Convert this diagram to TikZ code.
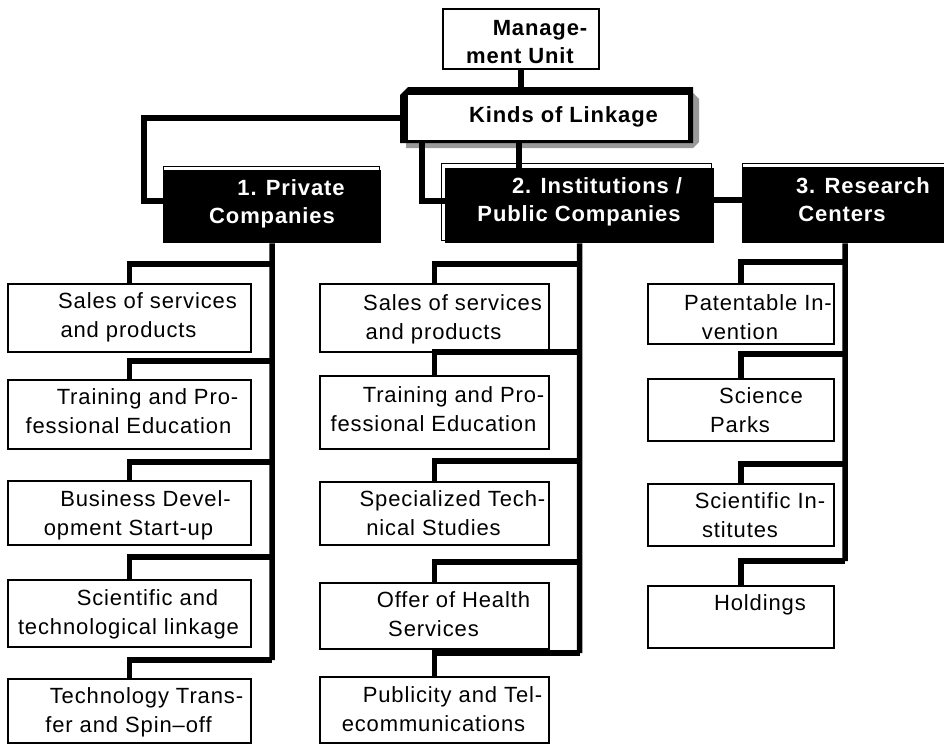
\documentclass[tikz,border=0pt]{standalone}
\usepackage{fontspec}
\setmainfont{Liberation Sans}[LetterSpace=4]
\begin{document}
\begin{tikzpicture}[x=1pt,y=-1pt,
  conn/.style={line width=5.5pt, line join=miter},
  leaf/.style={draw=black, line width=1.6pt, fill=white, rectangle, inner sep=0pt, anchor=north west},
  hdbox/.style={fill=black, rectangle, inner sep=0pt, anchor=north west},
  hdshade/.style={draw=black, line width=1pt, fill=white},
  lbl/.style={anchor=base, align=center, inner sep=0pt, font=\fontsize{22}{29}\selectfont},
  hdr/.style={anchor=base, align=center, inner sep=0pt, text=white, font=\fontsize{22}{28}\selectfont\bfseries},
  bld/.style={anchor=base, align=center, inner sep=0pt, text=black, font=\fontsize{22}{28}\selectfont\bfseries}
]
\useasboundingbox (0,0) rectangle (944,744);
\fill[white] (0,0) rectangle (944,744);

% ---------- Management unit ----------
\node[leaf, minimum width=156pt, minimum height=60pt] (mgmt) at (442,8) {};
\node[bld] (mgmtt) at (520,63) {\hspace*{40pt}Manage-\\ment Unit};

% ---------- Kinds of Linkage ----------
\node[minimum width=293pt, minimum height=56pt, inner sep=0pt] (kinds) at (546.5,115) {};
\fill[black!40] (406,93) -- (693,93) -- (699,99) -- (699,142) -- (693,148) -- (406,148) -- cycle;
\fill[black] (400,95) -- (408,87) -- (693,87) -- (693,143) -- (400,143) -- cycle;
\fill[white] (408,95) rectangle (688,140);
\node[bld] (kindst) at (546.5,122) {\hspace*{34pt}Kinds of Linkage};

% ---------- Level-1 boxes ----------
\draw[hdshade] (163,166) rectangle (379,240);
\node[hdbox, minimum width=218pt, minimum height=73pt] (priv) at (163,170) {};
\node[hdr] (privt) at (272,223) {\hspace*{38pt}1. Private\\Companies};

\draw[hdshade] (441,163) rectangle (711,240);
\node[hdbox, minimum width=269pt, minimum height=75pt] (inst) at (445,168) {};
\node[hdr] (instt) at (579,221) {\hspace*{36pt}2. Institutions /\\Public Companies};

\draw[hdshade] (742,163) rectangle (950,240);
\node[hdbox, minimum width=206pt, minimum height=76pt] (res) at (742,167) {};
\node[hdr] (rest) at (842,221) {\hspace*{42pt}3. Research\\Centers};

% ---------- Column 1 ----------
\node[leaf, minimum width=243pt, minimum height=68pt] (c1b1) at (7,283) {};
\node[leaf, minimum width=243pt, minimum height=69pt] (c1b2) at (7,379) {};
\node[leaf, minimum width=243pt, minimum height=64pt] (c1b3) at (7,480) {};
\node[leaf, minimum width=243pt, minimum height=67pt] (c1b4) at (7,579) {};
\node[leaf, minimum width=243pt, minimum height=64pt] (c1b5) at (7,678) {};
\node[lbl] (c1t1) at (128.5,337) {\hspace*{38pt}Sales of services\\and products};
\node[lbl] (c1t2) at (128.5,433) {\hspace*{38pt}Training and Pro-\\fessional Education};
\node[lbl] (c1t3) at (128.5,535) {\hspace*{34pt}Business Devel-\\opment Start-up};
\node[lbl] (c1t4) at (128.5,634) {\hspace*{38pt}Scientific and\\technological linkage};
\node[lbl] (c1t5) at (128.5,732) {\hspace*{36pt}Technology Trans-\\fer and Spin--off};

% ---------- Column 2 ----------
\node[leaf, minimum width=229pt, minimum height=68pt] (c2b1) at (319,283) {};
\node[leaf, minimum width=229pt, minimum height=73pt] (c2b2) at (319,375) {};
\node[leaf, minimum width=229pt, minimum height=63pt] (c2b3) at (319,481) {};
\node[leaf, minimum width=229pt, minimum height=66pt] (c2b4) at (319,582) {};
\node[leaf, minimum width=229pt, minimum height=66pt] (c2b5) at (319,676) {};
\node[lbl] (c2t1) at (433.5,339) {\hspace*{38pt}Sales of services\\and products};
\node[lbl] (c2t2) at (433.5,431) {\hspace*{40pt}Training and Pro-\\fessional Education};
\node[lbl] (c2t3) at (433.5,535) {\hspace*{38pt}Specialized Tech-\\nical Studies};
\node[lbl] (c2t4) at (433.5,636) {\hspace*{40pt}Offer of Health\\Services};
\node[lbl] (c2t5) at (433.5,731) {\hspace*{38pt}Publicity and Tel-\\ecommunications};

% ---------- Column 3 ----------
\node[leaf, minimum width=186pt, minimum height=60pt] (c3b1) at (647,283) {};
\node[leaf, minimum width=186pt, minimum height=62pt] (c3b2) at (647,378) {};
\node[leaf, minimum width=186pt, minimum height=62pt] (c3b3) at (647,483) {};
\node[leaf, minimum width=186pt, minimum height=62pt] (c3b4) at (647,585) {};
\node[lbl] (c3t1) at (740,339) {\hspace*{36pt}Patentable In-\\vention};
\node[lbl] (c3t2) at (740,432) {\hspace*{42pt}Science\\Parks};
\node[lbl] (c3t3) at (740,537) {\hspace*{40pt}Scientific In-\\stitutes};
\node[lbl] (c3t4) at (740,610) {\hspace*{40pt}Holdings};

% ---------- Connectors: top ----------
\coordinate (kl) at (400,118);
\coordinate (pj) at (144,201);
\coordinate (kb1) at (519,143);
\coordinate (kb2) at (422,143);
\coordinate (ij) at (422,201);
\coordinate (ir) at (714,200);
\draw[conn] (mgmt.south) -- (mgmt.south |- kinds.north);
\draw[conn] (kl) -| (pj) -- (pj -| priv.west);
\draw[conn] (kb1) -- (kb1 |- inst.north);
\draw[conn] (kb2) -- (ij) -- (ij -| inst.west);
\draw[conn] (ir) -- (ir -| res.west);

% ---------- Connectors: column 1 ----------
\coordinate (j11) at (272,264);
\coordinate (j12) at (272,361);
\coordinate (j13) at (272,462);
\coordinate (j14) at (272,557);
\coordinate (j15) at (272,660);
\draw[conn] (priv.south) -- (j15);
\draw[conn] (c1b1.north) |- (j11);
\draw[conn] (c1b2.north) |- (j12);
\draw[conn] (c1b3.north) |- (j13);
\draw[conn] (c1b4.north) |- (j14);
\draw[conn] (c1b5.north) |- (j15);

% ---------- Connectors: column 2 ----------
\coordinate (j21) at (579.5,264);
\coordinate (j22) at (579.5,352);
\coordinate (j23) at (579.5,461);
\coordinate (j24) at (579.5,562);
\coordinate (j25) at (579.5,653);
\draw[conn] (inst.south) -- (j25);
\draw[conn] (c2b1.north) |- (j21);
\draw[conn] (c2b2.north) |- (j22);
\draw[conn] (c2b3.north) |- (j23);
\draw[conn] (c2b4.north) |- (j24);
\draw[conn] (c2b5.north) |- (j25);

% ---------- Connectors: column 3 ----------
\coordinate (j31) at (845,262);
\coordinate (j32) at (845,354);
\coordinate (j33) at (845,464);
\coordinate (j34) at (845,561);
\draw[conn] (res.south) -- (j34);
\draw[conn] (c3b1.north) |- (j31);
\draw[conn] (c3b2.north) |- (j32);
\draw[conn] (c3b3.north) |- (j33);
\draw[conn] (c3b4.north) |- (j34);
\end{tikzpicture}
\end{document}
